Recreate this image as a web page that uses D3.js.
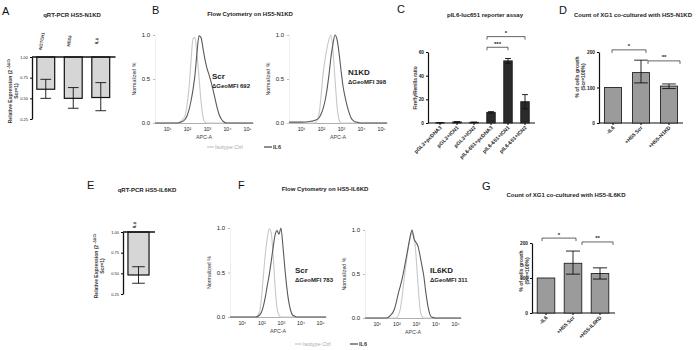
<!DOCTYPE html>
<html>
<head>
<meta charset="utf-8">
<script src="https://cdn.jsdelivr.net/npm/d3@7"></script>
<style>
  body { margin: 0; background: #fff; }
  svg { font-family: "Liberation Sans", Arial, sans-serif; }
</style>
</head>
<body>
<script>
// ---------- data ----------
// A: qRT-PCR HS5-N1KD (relative expression, Scr = 1)
var aCats = ["NOTCH1", "HES6", "IL6"];
var aVals = [0.61, 0.50, 0.51];
var aLow  = [0.50, 0.38, 0.35];
var aHigh = [0.73, 0.63, 0.69];
// E: qRT-PCR HS5-IL6KD
var eCats = ["IL6"];
var eVals = [0.48];
var eLow  = [0.38];
var eHigh = [0.58];
var qTicks = [0.25, 0.50, 0.75, 1.00];

// B / F: flow cytometry histograms, x = log10(APC-A), y = normalized %
var flowGrid = [0.4, 1.0, 1.5, 1.7, 1.9, 2.0, 2.1, 2.2, 2.3, 2.4, 2.5, 2.6, 2.7, 2.8, 2.9,
                3.0, 3.1, 3.2, 3.3, 3.4, 3.5, 3.6, 3.7, 3.8, 4.0, 4.5, 5.3];
var bScrIso = [0, 0, 0, 0.02, 0.08, 0.2, 0.4, 0.7, 0.96, 0.97, 0.78, 0.52, 0.25, 0.07, 0.01,
               0, 0, 0, 0, 0, 0, 0, 0, 0, 0, 0, 0];
var bScrIl6 = [0, 0, 0, 0.01, 0.04, 0.08, 0.15, 0.25, 0.38, 0.55, 0.8, 0.99, 0.97, 0.85, 0.72,
               0.62, 0.55, 0.47, 0.38, 0.28, 0.18, 0.1, 0.05, 0.02, 0, 0, 0];
var bKdIso  = [0, 0, 0, 0, 0.1, 0.3, 0.55, 0.72, 0.85, 0.95, 1.0, 0.82, 0.5, 0.2, 0.04,
               0, 0, 0, 0, 0, 0, 0, 0, 0, 0, 0, 0];
var bKdIl6  = [0.01, 0.01, 0.02, 0.03, 0.06, 0.1, 0.16, 0.25, 0.38, 0.55, 0.75, 0.9, 1.0, 0.95, 0.8,
               0.6, 0.42, 0.3, 0.2, 0.12, 0.06, 0.03, 0.015, 0.01, 0, 0, 0];
var fScrIso = [0, 0, 0, 0, 0.05, 0.2, 0.45, 0.7, 0.88, 0.99, 0.95, 0.7, 0.35, 0.1, 0.02,
               0, 0, 0, 0, 0, 0, 0, 0, 0, 0, 0, 0];
var fScrIl6 = [0, 0, 0, 0, 0.02, 0.05, 0.12, 0.22, 0.35, 0.47, 0.62, 0.78, 0.92, 0.97, 0.93,
               1.0, 0.8, 0.55, 0.33, 0.17, 0.07, 0.02, 0.01, 0, 0, 0, 0];
var fKdIso  = [0, 0, 0, 0, 0, 0, 0.03, 0.1, 0.25, 0.45, 0.62, 0.78, 0.9, 0.97, 0.93,
               0.72, 0.4, 0.12, 0.02, 0, 0, 0, 0, 0, 0, 0, 0];
var fKdIl6  = [0, 0, 0, 0.03, 0.1, 0.18, 0.28, 0.36, 0.45, 0.56, 0.68, 0.8, 0.92, 1.0, 0.9,
               0.86, 0.82, 0.72, 0.6, 0.48, 0.3, 0.15, 0.05, 0.01, 0, 0, 0];
var flowTicks = [10, 100, 1000, 10000, 100000];
var flowTickLabels = ["10\u00b9", "10\u00b2", "10\u00b3", "10\u2074", "10\u2075"];

// C: pIL6-luc651 reporter assay
var cCats = ["pGL3+pcDNA3", "pGL3+ICN1", "pGL3+ICN2", "pIL6-651+pcDNA3", "pIL6-651+ICN1", "pIL6-651+ICN2"];
var cVals = [0.3, 0.9, 0.6, 9, 52.5, 18];
var cLow  = [0.2, 0.7, 0.5, 8.4, 50.5, 12];
var cHigh = [0.4, 1.1, 0.7, 9.6, 54.5, 24];
var cTicks = [0, 20, 40, 60];
var cSigFrom = [3, 3], cSigTo = [4, 5], cSigLevel = [64, 73], cSigText = ["***", "*"];

// D: count of XG1 co-cultured with HS5-N1KD (% of Scr)
var dCats = ["-IL6", "+HS5 Scr", "+HS5-N1KD"];
var dVals = [100, 142, 104];
var dLow  = [100, 113, 97];
var dHigh = [100, 177, 110];
var dSigFrom = [0, 1], dSigTo = [1, 2], dSigLevel = [206, 175], dSigText = ["*", "**"];

// G: count of XG1 co-cultured with HS5-IL6KD
var gCats = ["-IL6", "+HS5 Scr", "+HS5-IL6KD"];
var gVals = [100, 142, 113];
var gLow  = [100, 111, 97];
var gHigh = [100, 177, 129];
var gSigFrom = [0, 1], gSigTo = [1, 2], gSigLevel = [214, 203], gSigText = ["*", "**"];
var growthTicks = [0, 100, 200];

// ---------- drawing ----------
var w = 700, h = 350;
var FONT = "Liberation Sans, Arial, sans-serif";
var svg = d3.select("body").append("svg").attr("width", w).attr("height", h);

function tidy(g, size, bold) {
  g.attr("font-family", FONT);
  g.selectAll("text").style("font-size", size + "px").attr("fill", "#222")
    .style("font-weight", bold ? "bold" : "normal");
}

function letter(t, x, y) {
  svg.append("text").attr("x", x).attr("y", y).style("font-size", "11px").attr("fill", "#111").text(t);
}

function title(t, x, y) {
  svg.append("text").attr("x", x).attr("y", y).attr("text-anchor", "middle")
    .style("font-size", "6px").style("font-weight", "bold").attr("fill", "#222").text(t);
}

function vLabel(lines, x, y, gap, size) {
  var g = svg.append("g").attr("transform", "translate(" + x + "," + y + ") rotate(-90)");
  lines.forEach(function (l, i) {
    g.append("text").attr("y", i * gap).attr("text-anchor", "middle")
      .style("font-size", size + "px").style("font-weight", "bold").attr("fill", "#333").text(l);
  });
  return g;
}

// hanging qPCR bars (bars drop from 1.00)
function qpcr(cats, vals, lo, hi, o) {
  var x = d3.scaleBand().domain(cats).range([o.left, o.right]).paddingInner(o.pad).paddingOuter(o.pad / 2);
  var y = d3.scaleLinear().domain([0.25, 1]).range([o.bottom, o.top]);
  var ya = svg.append("g").attr("transform", "translate(" + o.left + ",0)")
    .call(d3.axisLeft(y).tickValues(qTicks).tickFormat(d3.format(".2f")).tickSize(2).tickSizeOuter(0).tickPadding(2));
  tidy(ya, 4, false);
  ya.select(".domain").attr("stroke", "#111").attr("stroke-width", 1.3);
  svg.selectAll(null).data(vals).enter().append("rect")
    .attr("x", function (d, i) { return x(cats[i]); })
    .attr("y", y(1))
    .attr("width", x.bandwidth())
    .attr("height", function (d) { return y(d) - y(1); })
    .attr("fill", "#d6d6d6").attr("stroke", "#111").attr("stroke-width", 1.2);
  svg.append("line").attr("x1", o.left).attr("x2", o.right + 1).attr("y1", y(1)).attr("y2", y(1))
    .attr("stroke", "#111").attr("stroke-width", 1.5);
  var cap = x.bandwidth() * 0.6;
  vals.forEach(function (d, i) {
    var cx = x(cats[i]) + x.bandwidth() / 2;
    var p = d3.path();
    p.moveTo(cx, y(lo[i])); p.lineTo(cx, y(hi[i]));
    p.moveTo(cx - cap / 2, y(lo[i])); p.lineTo(cx + cap / 2, y(lo[i]));
    p.moveTo(cx - cap / 2, y(hi[i])); p.lineTo(cx + cap / 2, y(hi[i]));
    svg.append("path").attr("d", p.toString()).attr("stroke", "#111").attr("stroke-width", 0.9).attr("fill", "none");
    svg.append("text").attr("transform", "translate(" + (cx - 4) + "," + o.labelY + ") rotate(-80)")
      .attr("text-anchor", "middle").style("font-size", "4.3px").style("font-weight", "bold").attr("fill", "#333")
      .attr("dy", "0.35em").text(cats[i]);
  });
  // axis title with superscript
  var g = svg.append("g").attr("transform", "translate(" + o.titleX + "," + ((o.top + o.bottom) / 2 + 3) + ") rotate(-90)");
  var t = g.append("text").attr("text-anchor", "middle").style("font-size", "5px").style("font-weight", "bold").attr("fill", "#333");
  t.append("tspan").text("Relative Expression (2");
  t.append("tspan").attr("dy", -1.8).style("font-size", "3.6px").text(" -\u0394\u0394Ct");
  g.append("text").attr("y", 5.8).attr("text-anchor", "middle").style("font-size", "5px").style("font-weight", "bold")
    .attr("fill", "#333").text("Scr=1)");
}

// flow cytometry overlay
function flow(iso, il6, o) {
  var x = d3.scaleLog().domain([Math.pow(10, 0.4), Math.pow(10, 5.3)]).range([o.left, o.right]);
  var y = d3.scaleLinear().domain([0, 1]).range([o.bottom, o.top]);
  var xa = svg.append("g").attr("transform", "translate(0," + o.bottom + ")")
    .call(d3.axisBottom(x).tickValues(flowTicks).tickFormat(function (d, i) { return flowTickLabels[i]; })
      .tickSize(0).tickPadding(4));
  tidy(xa, 5.3, false);
  xa.select(".domain").attr("stroke", "#999").attr("stroke-width", 0.8);
  var ya = svg.append("g").attr("transform", "translate(" + o.left + ",0)")
    .call(d3.axisLeft(y).tickValues([0, 0.5, 1]).tickFormat(d3.format(".1f")).tickSize(2).tickSizeOuter(0).tickPadding(3));
  tidy(ya, 6, false);
  ya.select(".domain").attr("stroke", "#eee");
  ya.selectAll(".tick line").attr("stroke", "#bbb");
  var line = d3.line()
    .x(function (d, i) { return x(Math.pow(10, flowGrid[i])); })
    .y(function (d) { return y(d); })
    .curve(d3.curveMonotoneX);
  svg.append("path").attr("d", line(iso)).attr("fill", "none").attr("stroke", "#c8c8c8").attr("stroke-width", 1.1);
  svg.append("path").attr("d", line(il6)).attr("fill", "none").attr("stroke", "#5a5a5a").attr("stroke-width", 1.1);
  svg.append("text").attr("x", (o.left + o.right) / 2).attr("y", o.bottom + 16).attr("text-anchor", "middle")
    .style("font-size", "5.3px").attr("fill", "#444").text("APC-A");
  vLabel(["Normalized %"], o.left - 19, (o.top + o.bottom) / 2, 0, 5.3).selectAll("text").style("font-weight", "normal");
  svg.append("text").attr("x", o.tagX).attr("y", o.tagY).style("font-size", "8px").style("font-weight", "bold")
    .attr("fill", "#222").text(o.tag);
  svg.append("text").attr("x", o.tagX).attr("y", o.tagY + 9).style("font-size", "6px").style("font-weight", "bold")
    .attr("fill", "#222").text("\u0394GeoMFI " + o.mfi);
}

function flowLegend(x1, x2, y) {
  svg.append("line").attr("x1", x1).attr("x2", x1 + 7).attr("y1", y).attr("y2", y).attr("stroke", "#c8c8c8").attr("stroke-width", 1.2);
  svg.append("text").attr("x", x1 + 8).attr("y", y + 2).style("font-size", "5.5px").attr("fill", "#aaa").text("Isotype Ctrl");
  svg.append("line").attr("x1", x2).attr("x2", x2 + 8).attr("y1", y).attr("y2", y).attr("stroke", "#444").attr("stroke-width", 1.2);
  svg.append("text").attr("x", x2 + 9).attr("y", y + 2).style("font-size", "5.5px").style("font-weight", "bold").attr("fill", "#333").text("IL6");
}

// ordinary bar chart with error bars and significance brackets
function bars(cats, vals, lo, hi, o) {
  var x = d3.scaleBand().domain(cats).range([o.bandL, o.bandR]).paddingInner(o.pad).paddingOuter(o.pad / 2);
  var y = d3.scaleLinear().domain([0, o.yMax]).range([o.bottom, o.top]);
  var ya = svg.append("g").attr("transform", "translate(" + o.axisX + ",0)")
    .call(d3.axisLeft(y).tickValues(o.ticks).tickSize(2).tickSizeOuter(0).tickPadding(2));
  tidy(ya, 4.8, true);
  ya.select(".domain").attr("stroke", "#111").attr("stroke-width", 1.2);
  var xa = svg.append("g").attr("transform", "translate(0," + o.bottom + ")")
    .call(d3.axisBottom(x).tickSize(2).tickSizeOuter(0));
  tidy(xa, 5.2, true);
  xa.select(".domain").attr("d", "M" + o.axisX + ",0H" + o.axisR).attr("stroke", "#111").attr("stroke-width", 1.2);
  xa.selectAll(".tick text").attr("y", 0).attr("x", 0).attr("dy", 0)
    .attr("transform", "translate(2,5) rotate(-45)").style("text-anchor", "end");
  svg.selectAll(null).data(vals).enter().append("rect")
    .attr("x", function (d, i) { return x(cats[i]); })
    .attr("y", function (d) { return y(d); })
    .attr("width", x.bandwidth())
    .attr("height", function (d) { return o.bottom - y(d); })
    .attr("fill", o.fill).attr("stroke", "#222").attr("stroke-width", 0.9);
  var cap = x.bandwidth() * o.cap;
  vals.forEach(function (d, i) {
    if (hi[i] === lo[i]) return;
    var cx = x(cats[i]) + x.bandwidth() / 2;
    var p = d3.path();
    p.moveTo(cx, y(lo[i])); p.lineTo(cx, y(hi[i]));
    p.moveTo(cx - cap / 2, y(lo[i])); p.lineTo(cx + cap / 2, y(lo[i]));
    p.moveTo(cx - cap / 2, y(hi[i])); p.lineTo(cx + cap / 2, y(hi[i]));
    svg.append("path").attr("d", p.toString()).attr("stroke", "#111").attr("stroke-width", 0.9).attr("fill", "none");
  });
  o.sigFrom.forEach(function (f, k) {
    var x1 = x(cats[f]) + x.bandwidth() / 2 + o.sigDx[k][0];
    var x2 = x(cats[o.sigTo[k]]) + x.bandwidth() / 2 + o.sigDx[k][1];
    var yy = y(o.sigLevel[k]);
    svg.append("path").attr("d", "M" + x1 + "," + (yy + 3) + "V" + yy + "H" + x2 + "V" + (yy + 3))
      .attr("fill", "none").attr("stroke", "#222").attr("stroke-width", 0.7);
    svg.append("text").attr("x", (x1 + x2) / 2).attr("y", yy - 1.5).attr("text-anchor", "middle")
      .style("font-size", "6px").style("font-weight", "bold").attr("fill", "#222").text(o.sigText[k]);
  });
}

// ---- panel A ----
letter("A", 2, 15);
title("qRT-PCR  HS5-N1KD", 72, 17);
qpcr(aCats, aVals, aLow, aHigh, { left: 32, right: 114.5, top: 57, bottom: 119, pad: 0.35, labelY: 41, titleX: 12 });

// ---- panel B ----
letter("B", 152, 14);
title("Flow Cytometry on HS5-N1KD", 250, 16);
flow(bScrIso, bScrIl6, { left: 155, right: 253, top: 35, bottom: 123, tag: "Scr", mfi: 692, tagX: 212, tagY: 79 });
flow(bKdIso, bKdIl6, { left: 289, right: 387, top: 35, bottom: 123, tag: "N1KD", mfi: 398, tagX: 348, tagY: 75 });
flowLegend(207, 264, 147);

// ---- panel C ----
letter("C", 397, 13);
title("pIL6-luc651 reporter assay", 485, 17);
bars(cCats, cVals, cLow, cHigh, {
  bandL: 431.5, bandR: 533.5, axisX: 428, axisR: 535, pad: 0.5, yMax: 60, ticks: cTicks,
  top: 52, bottom: 123, fill: "#2a2a2a", cap: 0.7,
  sigFrom: cSigFrom, sigTo: cSigTo, sigLevel: cSigLevel, sigText: cSigText, sigDx: [[-4, 0], [-4, 0]]
});
vLabel(["Firefly/Renilla ratio"], 417, 88, 0, 4.8);

// ---- panel D ----
letter("D", 559, 14);
title("Count of XG1 co-cultured with HS5-N1KD", 633, 17);
bars(dCats, dVals, dLow, dHigh, {
  bandL: 599, bandR: 683, axisX: 599, axisR: 683, pad: 0.39, yMax: 200, ticks: growthTicks,
  top: 52, bottom: 123, fill: "#9b9b9b", cap: 0.8,
  sigFrom: dSigFrom, sigTo: dSigTo, sigLevel: dSigLevel, sigText: dSigText, sigDx: [[-1, 5], [7, 11]]
});
vLabel(["% of cells growth", "(Scr=100%)"], 579, 77, 5.5, 5);

// ---- panel E ----
letter("E", 87, 189);
title("qRT-PCR  HS5-IL6KD", 147, 192);
qpcr(eCats, eVals, eLow, eHigh, { left: 123, right: 154, top: 232, bottom: 294, pad: 0.32, labelY: 225, titleX: 98 });

// ---- panel F ----
letter("F", 238, 189);
title("Flow Cytometry on  HS5-IL6KD", 325, 191);
flow(fScrIso, fScrIl6, { left: 230, right: 326, top: 228, bottom: 317, tag: "Scr", mfi: 783, tagX: 295, tagY: 273 });
flow(fKdIso, fKdIl6, { left: 365, right: 461, top: 230, bottom: 318, tag: "IL6KD", mfi: 311, tagX: 430, tagY: 273 });
flowLegend(295, 350, 344);

// ---- panel G ----
letter("G", 482, 190);
title("Count of XG1 co-cultured with  HS5-IL6KD", 566, 197);
bars(gCats, gVals, gLow, gHigh, {
  bandL: 532.5, bandR: 613.5, axisX: 532, axisR: 615, pad: 0.35, yMax: 200, ticks: growthTicks,
  top: 243, bottom: 313, fill: "#9b9b9b", cap: 0.8,
  sigFrom: gSigFrom, sigTo: gSigTo, sigLevel: gSigLevel, sigText: gSigText, sigDx: [[-4, 3], [9, 13]]
});
vLabel(["% of cells growth", "(Scr=100%)"], 523, 271, 5.5, 5);
</script>
</body>
</html>
